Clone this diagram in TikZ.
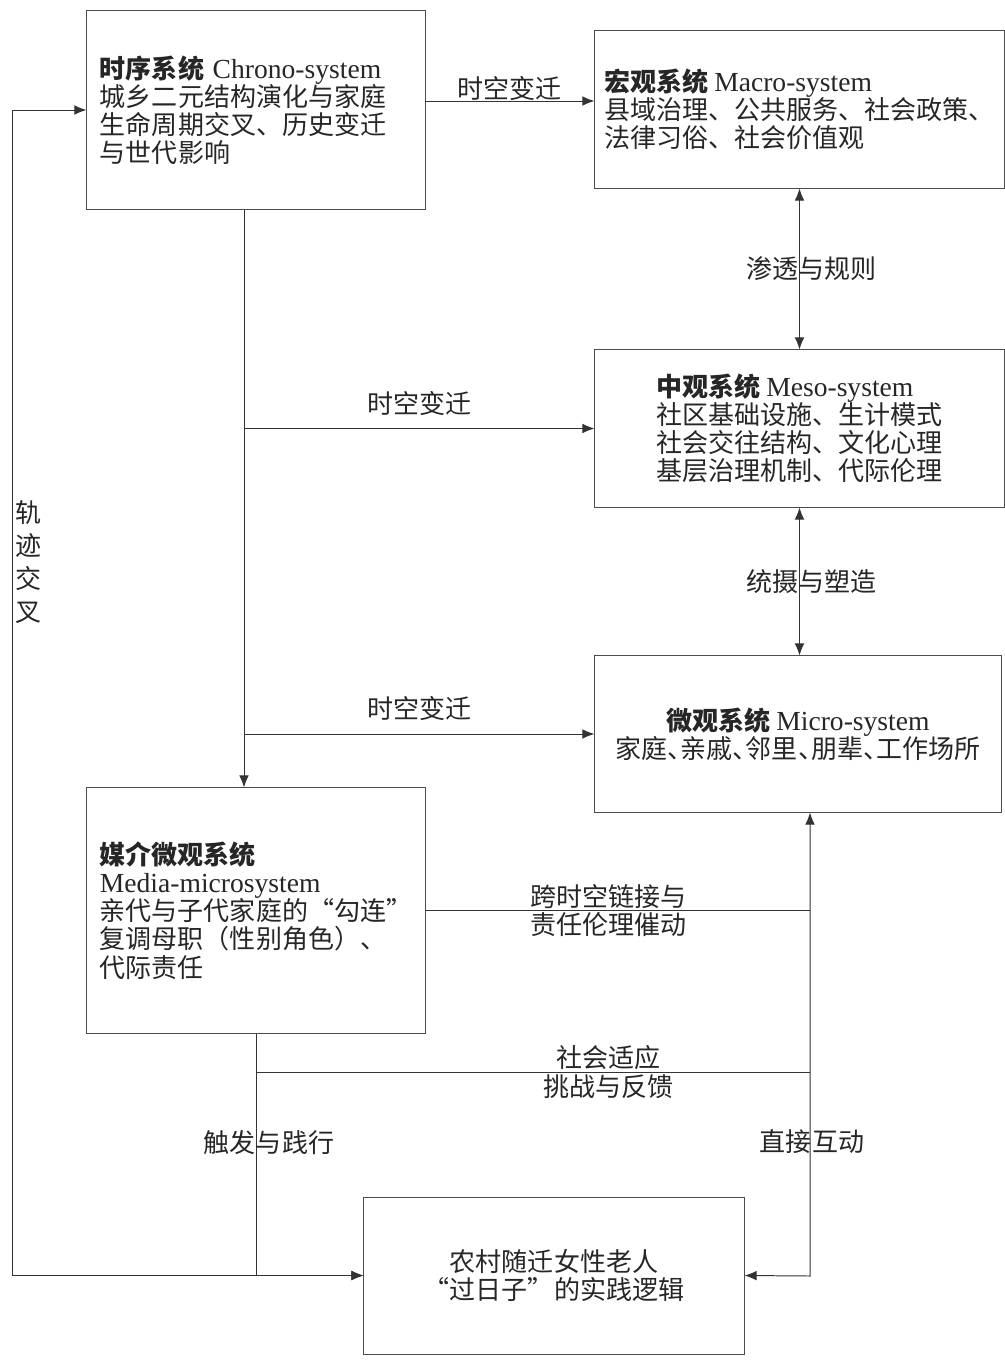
\documentclass[tikz,border=0pt]{standalone}
\usepackage{fontspec}
\setmainfont{Noto Sans CJK SC}
\newfontfamily\en[Scale=1.06]{Liberation Serif}
\newfontfamily\cjkhalt[RawFeature=+halt]{Noto Sans CJK SC}
\usetikzlibrary{arrows.meta,positioning}
\tikzset{
  sysbox/.style={
    rectangle,
    draw=black!70,
    line width=0.7pt,
    align=left,
    inner sep=2pt,
    text=black!85,
    font=\fontsize{18.5}{20}\selectfont
  },
  sidebox/.style={
    sysbox,
    minimum width=8.45cm,
    minimum height=4.95cm
  },
  rightbox/.style={
    sysbox,
    minimum width=10.225cm,
    minimum height=3.925cm
  },
  lbl/.style={
    align=center,
    inner sep=1pt,
    text=black!85,
    font=\fontsize{18.5}{20}\selectfont
  },
  link/.style={
    draw=black!80,
    line width=0.7pt
  },
  arrow/.style={
    link,
    -{Latex[length=3mm,width=2.4mm]}
  },
  dblarrow/.style={
    link,
    {Latex[length=3mm,width=2.4mm]}-{Latex[length=3mm,width=2.4mm]}
  }
}

\begin{document}
\begin{tikzpicture}[x=0.025cm, y=-0.025cm]
  \useasboundingbox (0,0) rectangle (1005,1362);

  % system boxes
  \node[sidebox, text width=7.8cm] (chrono) at (256,110) {{\bfseries 时序系统} {\en Chrono-system}\\城乡二元结构演化与家庭\\生命周期交叉、历史变迁\\与世代影响};
  \node[rightbox] (macro) at (799.5,109.5) {{\bfseries 宏观系统} {\en Macro-system}\\县域治理、公共服务、社会政策、\\法律习俗、社会价值观};
  \node[rightbox] (meso) at (799.5,428.5) {{\bfseries 中观系统} {\en Meso-system}\\社区基础设施、生计模式\\社会交往结构、文化心理\\基层治理机制、代际伦理};
  \node[rightbox, align=center, minimum width=10.15cm, minimum height=3.9cm] (micro) at (798,734) {{\bfseries 微观系统} {\en Micro-system}\\{\cjkhalt 家庭、亲戚、邻里、朋辈、工作场所}};
  \node[sidebox, minimum height=6.125cm] (media) at (256,910.5) {{\bfseries 媒介微观系统}\\{\en Media-microsystem}\\亲代与子代家庭的“勾连”\\复调母职（性别角色）、\\代际责任};
  \node[sysbox, align=center, minimum width=9.5cm, minimum height=3.925cm] (practice) at (554,1275.5) {农村随迁女性老人\\“过日子”的实践逻辑};

  % helper points
  \coordinate (c1) at (425,101);
  \coordinate (trunk) at (244,209);
  \coordinate (rb) at (810,1276);
  \coordinate (fb) at (257,1072);
  \coordinate (lp) at (12,700);

  % chrono links
  \draw[arrow] (c1) -- node[lbl, above, inner sep=0pt] {时空变迁} (c1 -| macro.west);
  \draw[arrow] (chrono.south -| trunk) -- (media.north -| trunk);
  \draw[arrow] (trunk |- meso.west) -- node[lbl, above=2.8mm] {时空变迁} (meso.west);
  \draw[arrow] (trunk |- micro.west) -- node[lbl, above=2.8mm] {时空变迁} (micro.west);

  % right column
  \draw[dblarrow] (macro.south) -- node[lbl, xshift=3mm] {渗透与规则} (macro.south |- meso.north);
  \draw[dblarrow] (meso.south) -- node[lbl, xshift=3mm] {统摄与塑造} (meso.south |- micro.north);
  \draw[dblarrow] (micro.south -| rb) -- node[lbl, pos=0.71, xshift=0.05cm] {直接互动} (rb) -- (practice.east);

  % media links
  \draw[link] (media.east) -- node[lbl, pos=0.475] {跨时空链接与\\责任伦理催动} (media.east -| rb);
  \draw[link] (fb) -- node[lbl, pos=0.635] {社会适应\\挑战与反馈} (fb -| rb);
  \draw[arrow] (media.south) -- node[lbl, pos=0.45, xshift=3.25mm] {触发与践行} (media.south |- practice.west) -- (practice.west);

  % trajectory loop
  \draw[dblarrow] (chrono.west) -- (chrono.west -| lp) -- (lp |- practice.west) -- (practice.west);
  \node[lbl, font=\fontsize{18.5}{23.5}\selectfont] (trace) at (29,562) {轨\\迹\\交\\叉};
\end{tikzpicture}
\end{document}
